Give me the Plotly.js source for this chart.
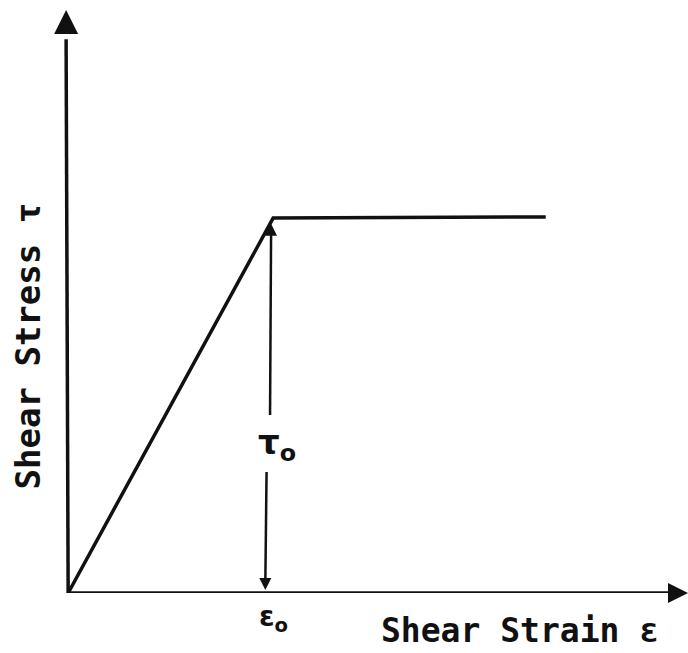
<!DOCTYPE html>
<html>
<head>
<meta charset="utf-8">
<script src="https://cdn.plot.ly/plotly-3.0.1.min.js"></script>
<style>html,body{margin:0;padding:0;background:#fff;}#chart{width:688px;height:653px;}</style>
</head>
<body>
<div id="chart"></div>
<script>
// Data (elastic–perfectly plastic shear response, normalised units)
const strain = [0, 1, 2.33];        // shear strain ε (ε0 = 1)
const stress = [0, 1, 1.003];       // shear stress τ (τ0 = 1)
const eps0 = 1;
const tau0 = 1;
const xMin = -0.03;
const xMax = 3.024;
const yMax = 1.555;
const xTitle = "Shear Strain ε";
const yTitle = "Shear Stress τ";
const eps0Label = "ε<sub>o</sub>";
const tau0Label = "τ<sub>o</sub>";

const ink = "#111111";
const font = "DejaVu Sans Mono, monospace";
const font2 = "DejaVu Sans, sans-serif";

const line = (xs, ys, w) => ({
  x: xs, y: ys, mode: "lines", type: "scatter",
  line: {color: ink, width: w}, hoverinfo: "skip", cliponaxis: false
});
const head = (x, y, sym, size) => ({
  x: [x], y: [y], mode: "markers", type: "scatter", cliponaxis: false, hoverinfo: "skip",
  marker: {symbol: sym, size: size, color: ink, line: {width: 0}}
});

const traces = [
  line(strain, stress, 3.5),
  // axes
  line([0, xMax * 0.98], [0, 0], 3.5),
  line([0, -0.01], [0, yMax * 0.95], 3.5),
  head(xMax, 0, "arrow-right", 20),
  head(-0.01, yMax, "arrow-up", 24),
  // tau0 dimension arrow, upper part
  line([eps0 * 0.99, eps0 * 0.985], [tau0 * 0.96, tau0 * 0.475], 2.5),
  head(eps0 * 0.99, tau0 * 0.985, "arrow-up", 12),
  // tau0 dimension arrow, lower part
  line([eps0 * 0.968, eps0 * 0.962], [tau0 * 0.323, tau0 * 0.03], 2.5),
  head(eps0 * 0.962, tau0 * 0.008, "arrow-down", 12)
];

const layout = {
  width: 688, height: 653,
  margin: {l: 62, r: 0, t: 10, b: 60},
  paper_bgcolor: "#fff", plot_bgcolor: "#fff",
  showlegend: false,
  xaxis: {range: [xMin, xMax], showgrid: false, zeroline: false, showticklabels: false, ticks: "", showline: false, fixedrange: true},
  yaxis: {range: [0, yMax], showgrid: false, zeroline: false, showticklabels: false, ticks: "", showline: false, fixedrange: true},
  annotations: [
    {x: eps0 + 0.02, y: tau0 * 0.395, xref: "x", yref: "y", text: tau0Label, showarrow: false,
     font: {family: font2, size: 34, color: ink, weight: "bold"}},
    {x: eps0, y: 0, xref: "x", yref: "y", yshift: -25, text: eps0Label, showarrow: false,
     font: {family: font2, size: 28, color: ink, weight: "bold"}},
    {x: 0.7316, y: -0.0635, xref: "paper", yref: "paper", xanchor: "center", yanchor: "middle",
     text: xTitle, showarrow: false,
     font: {family: font, size: 33, color: ink, weight: "bold"}},
    {x: -0.0543, y: 0.423, xref: "paper", yref: "paper", xanchor: "center", yanchor: "middle",
     text: yTitle, showarrow: false, textangle: -90,
     font: {family: font, size: 34, color: ink, weight: "bold"}}
  ]
};

Plotly.newPlot("chart", traces, layout, {displayModeBar: false, staticPlot: true});
</script>
</body>
</html>
